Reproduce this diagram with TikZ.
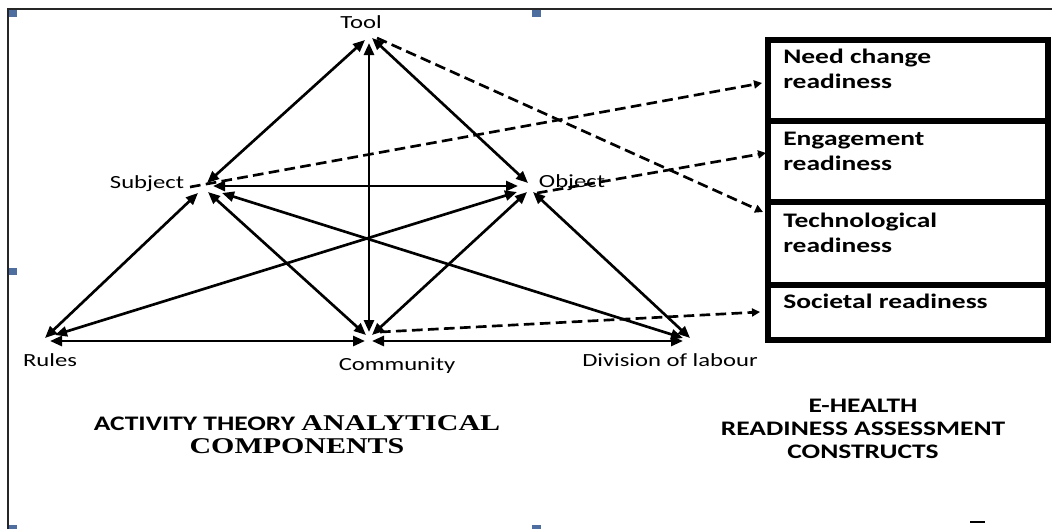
\documentclass[tikz,border=0pt]{standalone}
\usepackage{fontspec}
\setmainfont{Carlito}
\newfontfamily\timesfont{Liberation Serif}
\usetikzlibrary{arrows.meta}
\newcommand{\hs}[1]{\scalebox{1.33}[1]{#1}}
\definecolor{handleblue}{RGB}{79,110,160}
\begin{document}
\begin{tikzpicture}[x=0.75pt,y=-0.75pt,
  link/.style={line width=2pt, {Triangle[length=9pt,width=7.5pt]}-{Triangle[length=9pt,width=7.5pt]}},
  dlink/.style={line width=2pt, dash pattern=on 8pt off 4pt, -{Triangle[length=6pt,width=6pt]}},
  lab/.style={font=\fontsize{13.9}{16}\selectfont, inner sep=0pt, anchor=base},
  cell/.style={draw, line width=3.8pt, minimum width=210pt, anchor=north west, inner sep=0pt, outer sep=0pt},
  celltext/.style={font=\bfseries\fontsize{15.5}{18.75}\selectfont, align=left, anchor=base west, inner sep=0pt},
  title/.style={font=\bfseries\fontsize{15.5}{16.9}\selectfont, align=center, anchor=base, inner sep=0pt},
  handle/.style={fill=handleblue, draw=none}
]
\useasboundingbox (0,0) rectangle (1052,529);
% frame
\draw[line width=1.5pt, black!85] (8,529) -- (8,9) -- (1052,9);
% handles
\fill[handle] (9,10) rectangle (17,17);
\fill[handle] (532,10) rectangle (541,17);
\fill[handle] (9,268) rectangle (17,275);
\fill[handle] (9,525) rectangle (17,529);
\fill[handle] (532,525) rectangle (541,529);
\draw[line width=1.2pt] (970,522) -- (985,522);

% activity points
\coordinate (T) at (369,38);
\coordinate (S) at (205,185);
\coordinate (O) at (531,186);
\coordinate (R) at (45,339);
\coordinate (C) at (369,337);
\coordinate (D) at (690,340);

% labels
\node[lab] (tool) at (361,28) {\hs{Tool}};
\node[lab] (subject) at (147,188) {\hs{Subject}};
\node[lab] (object) at (572,187) {\hs{Object}};
\node[lab] (rules) at (50,366) {\hs{Rules}};
\node[lab] (community) at (397,370) {\hs{Community}};
\node[lab] (division) at (670,366) {\hs{Division of labour}};

% solid links
\draw[link] ([shift={(-4,2)}]T) -- ([shift={(2,-2)}]S);
\draw[link] ([shift={(3,0)}]T) -- ([shift={(-3,-3)}]O);
\draw[link] ([shift={(0,5)}]T) -- ([shift={(0,-5)}]C);
\draw[link] ([shift={(8,1)}]S) -- ([shift={(-13,0)}]O);
\draw[link] ([shift={(-7,8)}]S) -- ([shift={(0,-1)}]R);
\draw[link] ([shift={(3,7)}]S) -- ([shift={(-3,-2)}]C);
\draw[link] ([shift={(17,8)}]S) -- ([shift={(-7,-2)}]D);
\draw[link] ([shift={(10,-4)}]R) -- ([shift={(-14,6)}]O);
\draw[link] ([shift={(3,-2)}]C) -- ([shift={(-4,6)}]O);
\draw[link] ([shift={(0,-2)}]D) -- ([shift={(2,6)}]O);
\draw[link] ([shift={(5,2)}]R) -- ([shift={(-4,4)}]C);
\draw[link] ([shift={(3,4)}]C) -- ([shift={(-7,1)}]D);

% box cells
\node[cell, minimum height=60.75pt] (need) at (768,40) {};
\node[cell, minimum height=60.75pt] (eng) at (768,121) {};
\node[cell, minimum height=62.25pt] (tech) at (768,202) {};
\node[cell, minimum height=41.25pt] (soc) at (768,285) {};

\node[celltext] (needt) at (783,88) {\hs{Need change}\\\hs{readiness}};
\node[celltext] (engt) at (783,170) {\hs{Engagement}\\\hs{readiness}};
\node[celltext] (techt) at (783,252) {\hs{Technological}\\\hs{readiness}};
\node[celltext] (soct) at (783,308) {\hs{Societal readiness}};

% dashed arrow ends
\coordinate (needin) at (762,83);
\coordinate (engin) at (766,153);
\coordinate (techin) at (763,212);
\coordinate (socin) at (760,312);

\draw[dlink] ([shift={(-15,2)}]S) -- (needin);
\draw[dlink] ([shift={(8,0)}]T) -- (techin);
\draw[dlink] ([shift={(6,7)}]O) -- (engin);
\draw[dlink] ([shift={(11,-5)}]C) -- (socin);

% titles
\node[title] (attitle) at (297,453)
  {\hs{ACTIVITY THEORY {\timesfont\fontsize{16.9}{17.25}\selectfont ANALYTICAL}}\\
   \hs{\timesfont\fontsize{16.9}{17.25}\selectfont COMPONENTS}};
\node[title] (ehtitle) at (863,458)
  {\hs{E-HEALTH}\\\hs{READINESS ASSESSMENT}\\\hs{CONSTRUCTS}};
\end{tikzpicture}
\end{document}
